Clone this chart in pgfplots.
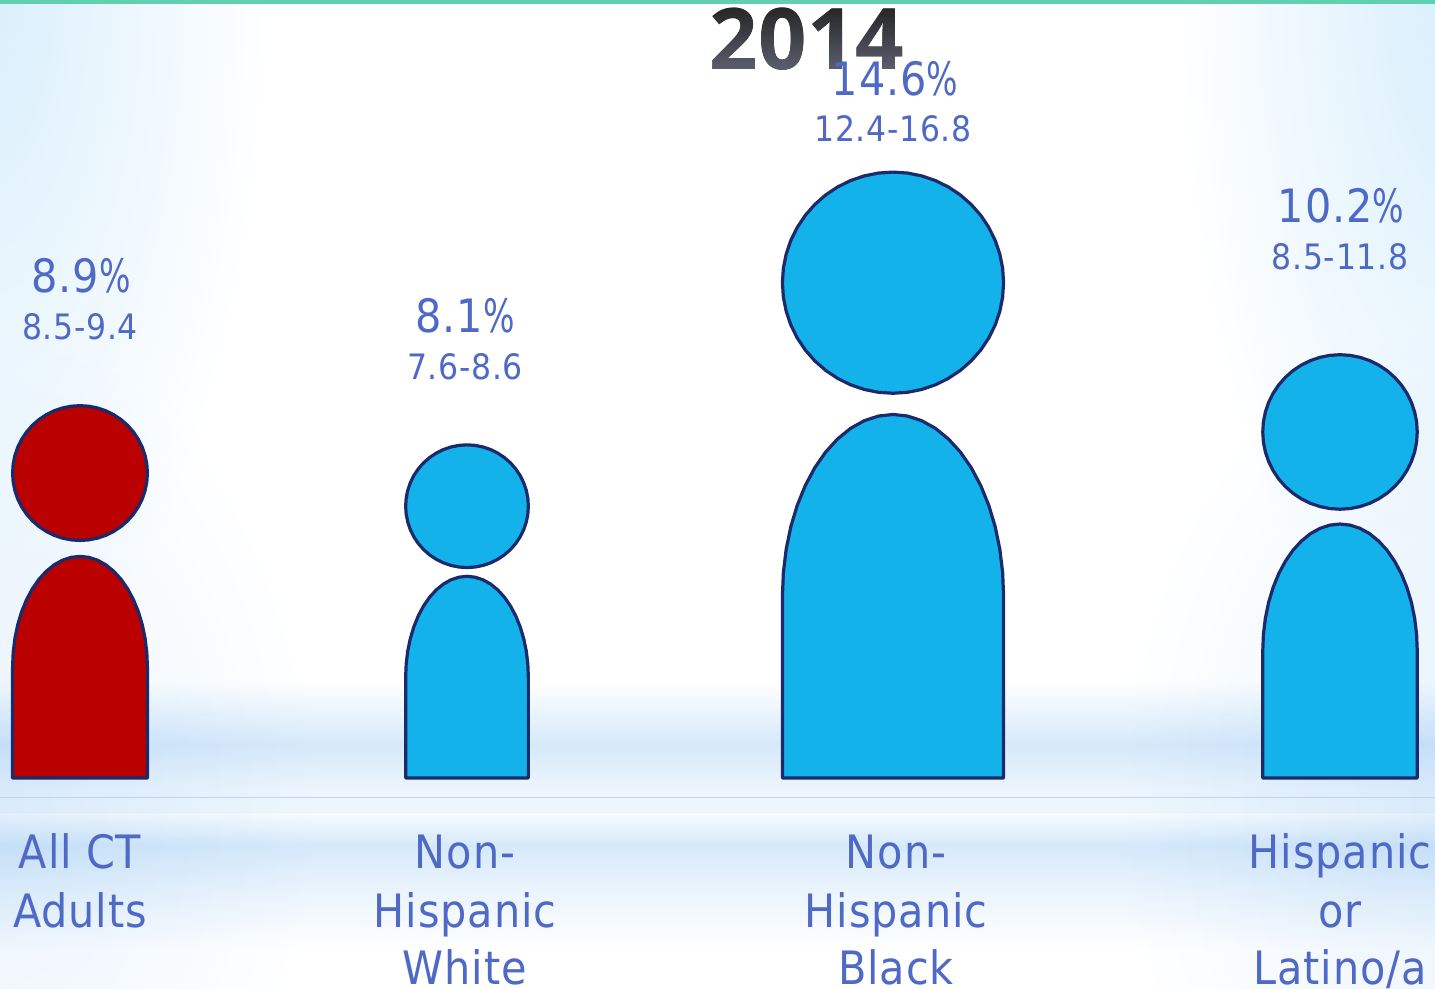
\documentclass[border=0pt]{standalone}
\usepackage{fontspec}
\usepackage{pgfplots}
\usepackage{pgfplotstable}
\pgfplotsset{compat=1.18}
\setmainfont{DejaVu Sans Condensed}[LetterSpace=2]
\newfontfamily\titlefont{Open Sans}
\newfontfamily\narrowfont{DejaVu Sans Condensed}[FakeStretch=0.8]

\definecolor{labelblue}{HTML}{4F69C6}
\definecolor{outline}{HTML}{1B2A6B}
\definecolor{figblue}{HTML}{13B2EA}
\definecolor{figred}{HTML}{BB0000}
\definecolor{rulecol}{HTML}{C5D3EF}
\definecolor{teal}{HTML}{5FD0B0}
\definecolor{glowL}{HTML}{D8EEFC}
\definecolor{glowB}{HTML}{D6E9FA}
\definecolor{titletop}{HTML}{262626}
\definecolor{titlebot}{HTML}{5C5F70}

% soft backdrop gradients; a path's extent spans the 25bp to 75bp part of an axial
% shading and the 0bp to 25bp part of a radial one
\pgfdeclareradialshading{glowtl}{\pgfpoint{0bp}{0bp}}{color(0bp)=(glowL); color(25bp)=(white); color(50bp)=(white)}
\pgfdeclareradialshading{glowbl}{\pgfpoint{0bp}{0bp}}{color(0bp)=(glowB!55!white); color(25bp)=(white); color(50bp)=(white)}
\pgfdeclareverticalshading{bandup}{100bp}{%
  color(0bp)=(glowB!40!white); color(25bp)=(glowB!40!white); color(33.5bp)=(glowB!45!white);
  color(50.5bp)=(glowB); color(75bp)=(white); color(100bp)=(white)}
\pgfdeclareverticalshading{banddown}{100bp}{%
  color(0bp)=(white); color(25bp)=(white); color(46.5bp)=(glowB!50!white);
  color(63bp)=(glowB); color(75bp)=(glowB!15!white); color(100bp)=(glowB!15!white)}

% unit outlines of the figure: body (arched top) and head (circle)
\pgfplotstableread{
u v
-1 0
-1 0.5
-0.9914 0.5653
-0.9659 0.6294
-0.9239 0.6914
-0.8660 0.75
-0.7934 0.8044
-0.7071 0.8536
-0.6088 0.8967
-0.5 0.9330
-0.3827 0.9620
-0.2588 0.9830
-0.1305 0.9957
0 1
0.1305 0.9957
0.2588 0.9830
0.3827 0.9620
0.5 0.9330
0.6088 0.8967
0.7071 0.8536
0.7934 0.8044
0.8660 0.75
0.9239 0.6914
0.9659 0.6294
0.9914 0.5653
1 0.5
1 0
}\unitbody
\pgfplotstableread{
u v
1 0
0.9914 0.1305
0.9659 0.2588
0.9239 0.3827
0.8660 0.5
0.7934 0.6088
0.7071 0.7071
0.6088 0.7934
0.5 0.8660
0.3827 0.9239
0.2588 0.9659
0.1305 0.9914
0 1
-0.1305 0.9914
-0.2588 0.9659
-0.3827 0.9239
-0.5 0.8660
-0.6088 0.7934
-0.7071 0.7071
-0.7934 0.6088
-0.8660 0.5
-0.9239 0.3827
-0.9659 0.2588
-0.9914 0.1305
-1 0
-0.9914 -0.1305
-0.9659 -0.2588
-0.9239 -0.3827
-0.8660 -0.5
-0.7934 -0.6088
-0.7071 -0.7071
-0.6088 -0.7934
-0.5 -0.8660
-0.3827 -0.9239
-0.2588 -0.9659
-0.1305 -0.9914
0 -1
0.1305 -0.9914
0.2588 -0.9659
0.3827 -0.9239
0.5 -0.8660
0.6088 -0.7934
0.7071 -0.7071
0.7934 -0.6088
0.8660 -0.5
0.9239 -0.3827
0.9659 -0.2588
0.9914 -0.1305
}\unithead

% #1 centre x, #2 percentage, #3 fill, #4 head offset: total height is 41.5 px per percentage point
\newcommand{\person}[4]{%
  \addplot[draw=outline, line width=3.2pt, fill=#3, line join=round, mark=none]
    table[x expr={#1+7.574*#2*\thisrow{u}}, y expr={778-0.6*41.5*#2*\thisrow{v}}] {\unitbody} -- cycle;
  \addplot[draw=outline, line width=3.2pt, fill=#3, line join=round, mark=none]
    table[x expr={#1+7.574*#2*\thisrow{u}}, y expr={778+#4-0.8175*41.5*#2-7.574*#2*\thisrow{v}}] {\unithead} -- cycle;
}
\newcommand{\pct}[3]{\node[anchor=base, inner sep=0pt, text=labelblue, font=\fontsize{46}{46}\selectfont] at (axis cs:#1,#2) {#3{\narrowfont\%}};}
\newcommand{\rng}[3]{\node[anchor=base, inner sep=0pt, text=labelblue, font=\fontsize{35}{35}\selectfont] at (axis cs:#1,#2) {#3};}
\newcommand{\cat}[3]{\node[anchor=base, inner sep=0pt, text=labelblue, font=\fontsize{46}{46}\selectfont] at (axis cs:#1,#2) {#3};}

\begin{document}
\begin{tikzpicture}
\path[use as bounding box] (0,0) rectangle (1435pt,988pt);
\begin{axis}[
  at={(0,0)}, anchor=south west, scale only axis,
  width=1435pt, height=988pt,
  xmin=0, xmax=1435, ymin=0, ymax=988, y dir=reverse,
  axis line style={draw=none}, ticks=none, clip=true,
]
% backdrop
\fill[white] (axis cs:0,0) rectangle (axis cs:1435,988);
\shade[shading=glowtl, blend mode=multiply] (axis cs:-20,-20) ellipse [x radius=290, y radius=720];
\shade[shading=glowtl, blend mode=multiply] (axis cs:1455,-20) ellipse [x radius=280, y radius=720];
\shade[shading=glowbl, blend mode=multiply] (axis cs:-20,800) ellipse [x radius=340, y radius=480];
\shade[shading=glowbl, blend mode=multiply] (axis cs:1455,800) ellipse [x radius=340, y radius=480];
\shade[shading=bandup, blend mode=multiply] (axis cs:0,680) rectangle (axis cs:1435,812);
\shade[shading=banddown, blend mode=multiply] (axis cs:0,812) rectangle (axis cs:1435,950);
\fill[rulecol] (axis cs:0,796.5) rectangle (axis cs:1435,798);
\fill[teal] (axis cs:0,0) rectangle (axis cs:1435,3.5);

% figures, sized from the percentages
\person{80}{8.9}{figred}{-3}
\person{467}{8.1}{figblue}{3}
\person{893}{14.6}{figblue}{0}
\person{1340}{10.2}{figblue}{0}

% title: black glyphs tinted by a lighten-blended gradient
\node[anchor=base, inner sep=0pt, text=black, font=\titlefont\bfseries\fontsize{85}{85}\selectfont] at (axis cs:807,69) {2014};
\shade[blend mode=lighten, top color=titletop, bottom color=titlebot] (axis cs:700,7) rectangle (axis cs:915,71);

% percentages and intervals
\pct{81}{292}{8.9}   \rng{80}{339}{8.5-9.4}
\pct{465}{332}{8.1}  \rng{465}{379}{7.6-8.6}
\pct{895}{95}{14.6}  \rng{893}{141}{12.4-16.8}
\pct{1341}{222}{10.2} \rng{1340}{269}{8.5-11.8}

% group names
\cat{80}{868}{All CT}    \cat{80}{927}{Adults}
\cat{465}{868}{Non-}     \cat{465}{927}{Hispanic} \cat{465}{984}{White}
\cat{896}{868}{Non-}     \cat{896}{927}{Hispanic} \cat{896}{984}{Black}
\cat{1340}{868}{Hispanic} \cat{1340}{927}{or}     \cat{1340}{984}{Latino/a}
\end{axis}
\end{tikzpicture}
\end{document}
